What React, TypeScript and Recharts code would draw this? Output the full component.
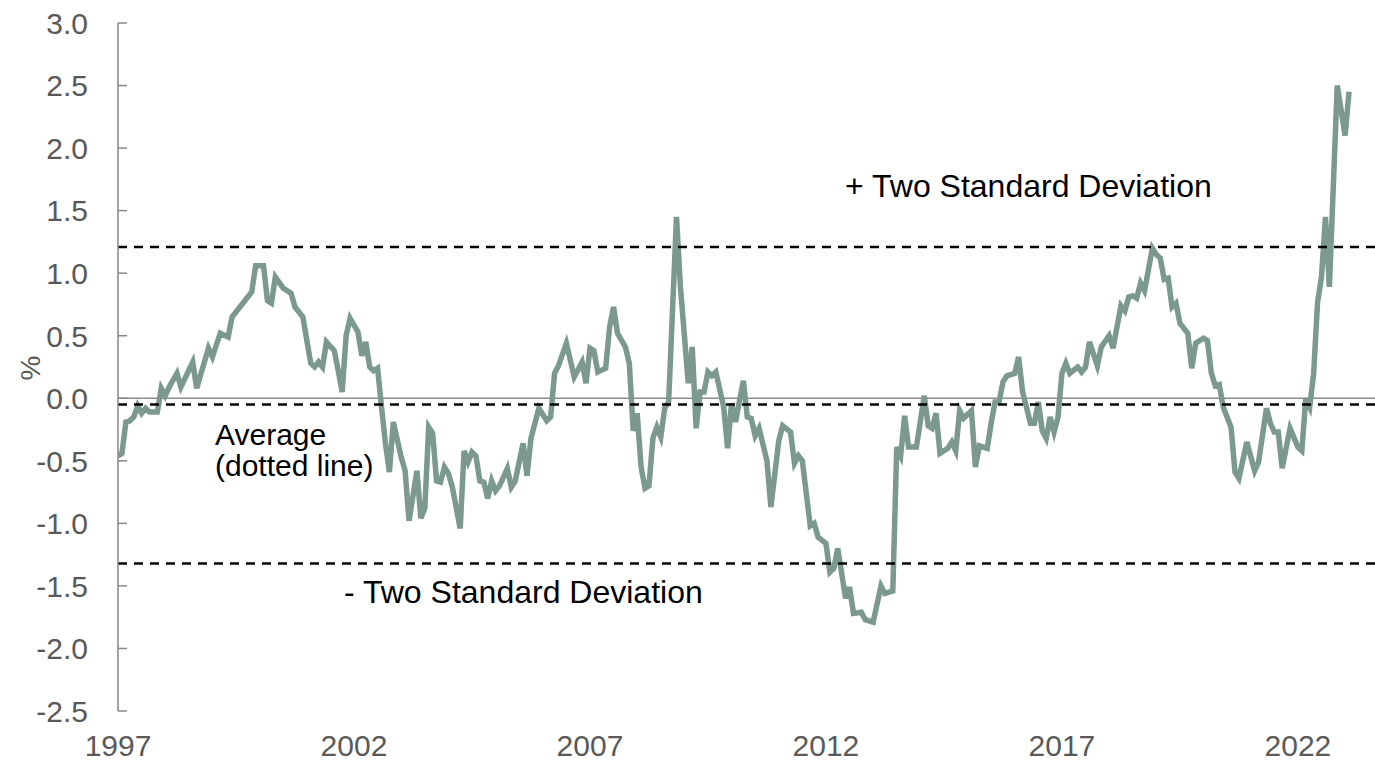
import { LineChart, Line, XAxis, YAxis, ReferenceLine } from 'recharts';

// months since Jan 1997
const months = [
  0, 1, 2, 3, 4, 5, 6, 7, 8, 10,
  11, 12, 13, 15, 16, 19, 20, 23, 24, 26,
  28, 29, 31, 34, 35, 37, 38, 39, 40, 42,
  44, 45, 47, 49, 50, 51, 52, 53, 55, 56,
  57, 58, 59, 61, 62, 63, 64, 65, 66, 67,
  68, 69, 70, 72, 73, 74, 76, 77, 78, 79,
  80, 81, 82, 83, 84, 85, 87, 88, 89, 90,
  91, 92, 93, 94, 95, 96, 97, 99, 100, 101,
  103, 104, 105, 107, 109, 110, 111, 112, 114, 116,
  118, 119, 120, 121, 122, 124, 125, 126, 127, 129,
  130, 131, 132, 133, 134, 135, 136, 137, 138, 139,
  140, 142, 143, 145, 146, 147, 148, 149, 150, 151,
  152, 154, 155, 156, 157, 159, 160, 161, 162, 163,
  165, 166, 168, 169, 171, 172, 173, 174, 176, 177,
  178, 180, 181, 182, 183, 185, 186, 187, 189, 190,
  192, 194, 195, 197, 198, 199, 200, 201, 203, 205,
  206, 207, 208, 209, 211, 212, 213, 214, 215, 217,
  218, 219, 221, 222, 223, 224, 225, 226, 228, 229,
  230, 232, 233, 234, 235, 236, 237, 238, 239, 240,
  241, 242, 244, 245, 246, 247, 249, 250, 252, 253,
  255, 256, 257, 258, 259, 260, 261, 263, 264, 265,
  266, 267, 268, 269, 270, 272, 273, 274, 276, 277,
  278, 279, 280, 281, 283, 284, 285, 287, 289, 290,
  292, 293, 294, 295, 296, 298, 300, 301, 302, 303,
  304, 305, 306, 307, 308, 310, 312, 313,
];

const values = [
  -0.46, -0.44, -0.19, -0.18, -0.15, -0.06, -0.12, -0.08, -0.11, -0.11,
  0.08, 0.02, 0.09, 0.2, 0.09, 0.29, 0.08, 0.4, 0.33, 0.52,
  0.49, 0.65, 0.73, 0.85, 1.06, 1.06, 0.78, 0.76, 0.97, 0.88,
  0.84, 0.73, 0.65, 0.28, 0.25, 0.29, 0.25, 0.45, 0.38, 0.22,
  0.05, 0.5, 0.64, 0.53, 0.34, 0.45, 0.25, 0.22, 0.24, -0.07,
  -0.36, -0.59, -0.19, -0.47, -0.58, -0.98, -0.58, -0.96, -0.88, -0.23,
  -0.28, -0.66, -0.67, -0.55, -0.6, -0.71, -1.04, -0.42, -0.51, -0.43,
  -0.46, -0.66, -0.67, -0.8, -0.66, -0.74, -0.7, -0.56, -0.71, -0.66,
  -0.36, -0.62, -0.32, -0.08, -0.18, -0.15, 0.2, 0.26, 0.44, 0.17,
  0.29, 0.12, 0.4, 0.38, 0.21, 0.24, 0.57, 0.73, 0.52, 0.41,
  0.28, -0.26, -0.12, -0.55, -0.72, -0.7, -0.32, -0.23, -0.31, -0.08,
  -0.03, 1.45, 0.89, 0.12, 0.41, -0.24, 0.05, 0.05, 0.21, 0.18,
  0.21, -0.07, -0.4, -0.04, -0.19, 0.14, -0.15, -0.16, -0.3, -0.24,
  -0.5, -0.87, -0.34, -0.22, -0.27, -0.52, -0.46, -0.5, -1.02, -1.0,
  -1.11, -1.16, -1.39, -1.36, -1.2, -1.6, -1.51, -1.72, -1.71, -1.77,
  -1.79, -1.5, -1.56, -1.54, -0.39, -0.46, -0.14, -0.39, -0.39, 0.02,
  -0.22, -0.24, -0.12, -0.44, -0.4, -0.35, -0.42, -0.1, -0.16, -0.1,
  -0.55, -0.38, -0.4, -0.2, -0.03, -0.03, 0.13, 0.18, 0.2, 0.33,
  0.05, -0.2, -0.2, -0.03, -0.26, -0.32, -0.15, -0.27, -0.15, 0.2,
  0.28, 0.2, 0.25, 0.21, 0.25, 0.45, 0.26, 0.41, 0.5, 0.4,
  0.74, 0.7, 0.81, 0.82, 0.8, 0.92, 0.86, 1.2, 1.15, 1.12,
  0.95, 0.96, 0.73, 0.76, 0.6, 0.52, 0.24, 0.44, 0.48, 0.46,
  0.2, 0.1, 0.11, -0.07, -0.23, -0.59, -0.64, -0.35, -0.58, -0.51,
  -0.08, -0.2, -0.27, -0.27, -0.56, -0.24, -0.39, -0.42, 0.0, -0.07,
  0.2, 0.77, 0.97, 1.45, 0.89, 2.5, 2.1, 2.45,
];

const startYear = 1997;
const yearTicks = [1997, 2002, 2007, 2012, 2017, 2022];
const yTicks = [-2.5, -2, -1.5, -1, -0.5, 0, 0.5, 1, 1.5, 2, 2.5, 3];

const plusTwoSd = 1.21;
const average = -0.05;
const minusTwoSd = -1.32;

const data = months.map((m, i) => ({ m, v: values[i] }));

const FONT = '"Liberation Sans", Arial, sans-serif';
const AXIS_GREY = '#868686';
const LABEL_GREY = '#595959';

const YTick = (props: any) => {
  const { x, y, payload } = props;
  return (
    <g>
      <line x1={x} x2={x + 9} y1={y} y2={y} stroke={AXIS_GREY} strokeWidth={1.5} />
      <text x={x - 30} y={y} dy="0.36em" textAnchor="end" fontSize={30} fill={LABEL_GREY} fontFamily={FONT}>
        {Number(payload.value).toFixed(1)}
      </text>
    </g>
  );
};

const XTick = (props: any) => {
  const { x, y, payload } = props;
  return (
    <text x={x} y={y + 45} textAnchor="middle" fontSize={30} fill={LABEL_GREY} fontFamily={FONT}>
      {startYear + payload.value / 12}
    </text>
  );
};

export default function App() {
  return (
    <div style={{ position: 'absolute', left: 0, top: 0, width: 1375, height: 763, background: '#fff', fontFamily: FONT }}>
      <LineChart width={1375} height={763} data={data} margin={{ top: 23, right: 0, bottom: 0, left: 0 }}>
        <XAxis
          dataKey="m"
          type="number"
          domain={[0, 319.6]}
          ticks={yearTicks.map((y) => (y - startYear) * 12)}
          tick={<XTick />}
          axisLine={false}
          tickLine={false}
          tickSize={0}
          tickMargin={0}
          height={52}
          allowDataOverflow
        />
        <YAxis
          type="number"
          domain={[-2.5, 3]}
          ticks={yTicks}
          tick={<YTick />}
          width={118}
          axisLine={{ stroke: AXIS_GREY, strokeWidth: 1.5 }}
          tickLine={false}
          tickSize={0}
          tickMargin={0}
          interval={0}
        />
        <ReferenceLine y={0} stroke="#8c8c8c" strokeWidth={1.5} />
        <Line
          type="linear"
          dataKey="v"
          stroke="#7b998c"
          strokeWidth={5.5}
          dot={false}
          isAnimationActive={false}
        />
        <ReferenceLine y={plusTwoSd} stroke="#000" strokeWidth={2.5} strokeDasharray="9 7" />
        <ReferenceLine y={average} stroke="#000" strokeWidth={2.5} strokeDasharray="9 7" />
        <ReferenceLine y={minusTwoSd} stroke="#000" strokeWidth={2.5} strokeDasharray="9 7" />
      </LineChart>
      <svg width={1375} height={763} style={{ position: 'absolute', left: 0, top: 0, pointerEvents: 'none' }}>
        <text x={30} y={368} transform="rotate(-90 30 368)" textAnchor="middle" dy="0.36em" fontSize={28} fill={LABEL_GREY} fontFamily={FONT}>
          %
        </text>
        <text x={845} y={197} fontSize={32} fill="#000" fontFamily={FONT}>
          + Two Standard Deviation
        </text>
        <text x={215} y={445} fontSize={30} fill="#000" fontFamily={FONT}>
          Average
        </text>
        <text x={215} y={476} fontSize={30} fill="#000" fontFamily={FONT}>
          (dotted line)
        </text>
        <text x={344} y={603} fontSize={32} fill="#000" fontFamily={FONT}>
          - Two Standard Deviation
        </text>
      </svg>
    </div>
  );
}
